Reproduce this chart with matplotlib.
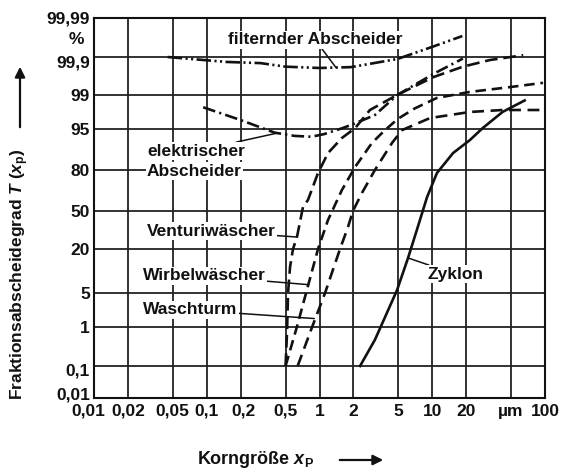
import numpy as np
import matplotlib
matplotlib.use("Agg")
import matplotlib.pyplot as plt
from matplotlib.transforms import ScaledTranslation

plt.rcParams['font.family'] = ['Liberation Sans', 'DejaVu Sans']
plt.rcParams['font.weight'] = 'bold'
plt.rcParams['mathtext.fontset'] = 'custom'
plt.rcParams['mathtext.rm'] = 'Liberation Sans:bold'
plt.rcParams['mathtext.it'] = 'Liberation Sans:italic:bold'

# ---------------- data ----------------
x_ticks = [0.01, 0.02, 0.05, 0.1, 0.2, 0.5, 1, 2, 5, 10, 20, 50, 100]
x_ticklabels = ['0,01', '0,02', '0,05', '0,1', '0,2', '0,5', '1', '2', '5',
                '10', '20', 'µm', '100']
y_ticks = [0.01, 0.1, 1, 5, 20, 50, 80, 95, 99, 99.9, 99.99]
y_ticklabels = ['0,01', '0,1', '1', '5', '20', '50', '80', '95', '99',
                '99,9', '99,99']
# relative grid positions of the (hand drawn) probability axis
y_tick_pos = [0, 32, 71, 105, 149, 187, 228, 269, 303, 341, 380]

filt_x = [0.045, 0.15, 0.3, 0.5, 1.0, 1.9, 4.9, 10, 18.5]
filt_y = [99.90, 99.865, 99.855, 99.82, 99.805, 99.815, 99.887, 99.945, 99.971]

elek_x = [0.093, 0.2, 0.4, 0.6, 0.85, 1.1, 1.6, 2.1, 3.1, 4.9, 7.3, 11, 18.7]
elek_y = [98.2, 96.7, 94.3, 93.6, 93.4, 94.0, 95.2, 96.2, 97.4, 99.0, 99.5,
          99.75, 99.89]

vent_x = [0.5, 0.515, 0.526, 0.548, 0.582, 0.631, 0.714, 0.79, 0.97, 1.19,
          1.58, 2.07, 2.8, 4.87, 10.2, 18.7, 32.5, 64]
vent_y = [0.1, 0.7, 5, 11.7, 20, 27.9, 53.4, 59.2, 78.3, 88.4, 93.1, 95.2,
          97.95, 99.0, 99.66, 99.82, 99.88, 99.91]

wirb_x = [0.5, 0.63, 0.76, 0.97, 1.19, 1.58, 2.07, 2.92, 3.81, 4.97, 7.0, 11,
          21.6, 49, 96]
wirb_y = [0.1, 1, 5, 20, 41.9, 67, 81.8, 91.8, 94.8, 96.9, 98.1, 98.85, 99.17,
          99.38, 99.52]

wasch_x = [0.64, 0.86, 1.12, 1.52, 1.79, 1.98, 2.38, 3.1, 4.4, 5.4, 9.55,
           21.6, 42, 96]
wasch_y = [0.1, 1, 5, 20, 35.8, 50, 64.8, 80, 91.8, 94.8, 97.0, 97.75, 97.95,
           97.95]

zyk_x = [2.29, 3.1, 3.81, 4.87, 6.1, 7.3, 9.0, 11, 15.3, 21.6, 28, 42, 66]
zyk_y = [0.1, 0.47, 1.6, 5.5, 15.4, 33.3, 61.6, 78.3, 88.4, 92.6, 95.2,
         97.75, 98.7]

# ---------------- probability-like y scale ----------------
TP = np.array(y_ticks, float)
POS = np.array(y_tick_pos, float) / y_tick_pos[-1]


def _logit(p):
    p = np.asarray(p, float)
    with np.errstate(all='ignore'):
        return np.log(p / (100.0 - p))


LT = _logit(TP)


def fwd(p):
    L = _logit(p)
    out = np.interp(L, LT, POS)
    s0 = (POS[1] - POS[0]) / (LT[1] - LT[0])
    s1 = (POS[-1] - POS[-2]) / (LT[-1] - LT[-2])
    out = np.where(L < LT[0], POS[0] + (L - LT[0]) * s0, out)
    out = np.where(L > LT[-1], POS[-1] + (L - LT[-1]) * s1, out)
    return out


def inv(y):
    y = np.asarray(y, float)
    L = np.interp(y, POS, LT)
    s0 = (LT[1] - LT[0]) / (POS[1] - POS[0])
    s1 = (LT[-1] - LT[-2]) / (POS[-1] - POS[-2])
    L = np.where(y < POS[0], LT[0] + (y - POS[0]) * s0, L)
    L = np.where(y > POS[-1], LT[-1] + (y - POS[-1]) * s1, L)
    return 100.0 / (1.0 + np.exp(-L))


# ---------------- figure ----------------
W, H = 562, 476
fig = plt.figure(figsize=(W / 100, H / 100), dpi=100)
L0, R0, T0, B0 = 94, 545, 18, 398
ax = fig.add_axes([L0 / W, (H - B0) / H, (R0 - L0) / W, (B0 - T0) / H])

ax.set_xscale('log')
ax.set_yscale('function', functions=(fwd, inv))
ax.set_xlim(0.01, 100)
ax.set_ylim(0.01, 99.99)

ax.set_xticks(x_ticks)
ax.set_xticklabels(x_ticklabels)
ax.xaxis.set_minor_locator(matplotlib.ticker.NullLocator())
ax.set_yticks(y_ticks)
ax.set_yticklabels(y_ticklabels)
ax.yaxis.set_minor_locator(matplotlib.ticker.NullLocator())
ax.tick_params(length=0, labelsize=12.5, colors='#111111')
ax.tick_params(axis='x', pad=4)
ax.tick_params(axis='y', pad=3)

# small hand-placed offsets of some tick labels (pixels)
x_shift = {0: -6, 4: 3}
for i, t in enumerate(ax.get_xticklabels()):
    if i in x_shift:
        t.set_transform(t.get_transform() +
                        ScaledTranslation(x_shift[i] / 100, 0, fig.dpi_scale_trans))
y_shift = {0: 5, 1: -3, 9: -4}
for i, t in enumerate(ax.get_yticklabels()):
    if i in y_shift:
        t.set_transform(t.get_transform() +
                        ScaledTranslation(0, y_shift[i] / 100, fig.dpi_scale_trans))

ax.grid(True, which='major', color='#222222', lw=1.3)
ax.set_axisbelow(True)
for sp in ax.spines.values():
    sp.set_linewidth(1.5)
    sp.set_color('#111111')

lc = '#111111'
lw = 1.9
ax.plot(filt_x, filt_y, color=lc, lw=lw, linestyle=(0, (5.5, 1.3, 0.8, 1.3, 0.8, 1.3)))
ax.plot(elek_x, elek_y, color=lc, lw=lw, linestyle=(0, (4.8, 1.6, 0.8, 1.6)))
ax.plot(vent_x, vent_y, color=lc, lw=lw, linestyle=(0, (4.8, 2.2)))
ax.plot(wirb_x, wirb_y, color=lc, lw=lw, linestyle=(0, (4.0, 2.2)))
ax.plot(wasch_x, wasch_y, color=lc, lw=lw, linestyle=(0, (4.5, 2.5)))
ax.plot(zyk_x, zyk_y, color=lc, lw=lw, linestyle='-')


def fx(px):
    return (px - L0) / (R0 - L0)


def fy(py):
    return (B0 - py) / (B0 - T0)


box = dict(facecolor='white', edgecolor='none', pad=1.0)
aprops = dict(arrowstyle='-', lw=1.1, color=lc, shrinkA=0, shrinkB=0)
fs = 12.5


def label(text, px, py, xy=None):
    if xy is None:
        ax.text(fx(px), fy(py), text, transform=ax.transAxes, ha='left',
                va='center', fontsize=fs, bbox=box, zorder=4, color=lc)
    else:
        ax.annotate(text, xy=xy, xycoords='data', xytext=(fx(px), fy(py)),
                    textcoords='axes fraction', ha='left', va='center',
                    fontsize=fs, bbox=box, arrowprops=aprops, zorder=4,
                    color=lc)


label('filternder Abscheider', 228, 40, (1.4, 99.81))
label('elektrischer', 147, 151, (0.42, 94.2))
label('Abscheider', 147, 171)
label('Venturiwäscher', 147, 231, (0.631, 27.9))
label('Wirbelwäscher', 143, 276, (0.80, 6.6))
label('Waschturm', 143, 310, (0.9, 1.5))
label('Zyklon', 427, 274, (6.1, 15.4))

# percent sign under the top label
fig.text(76 / W, (H - 39) / H, '%', ha='center', va='center', fontsize=12.5,
         color=lc)

# axis titles with arrows
fig.text(20 / W, (H - 400) / H, 'Fraktionsabscheidegrad $T$ ($x_\\mathrm{p}$)',
         rotation=90, ha='center', va='bottom', fontsize=12.5, color=lc)
fig.add_artist(matplotlib.patches.FancyArrowPatch(
    (20 / W, (H - 130) / H), (20 / W, (H - 64) / H),
    transform=fig.transFigure, arrowstyle='-|>', mutation_scale=15,
    lw=1.6, color=lc))

fig.text(197 / W, (H - 460) / H, 'Korngröße $x_\\mathrm{P}$', ha='left',
         va='center', fontsize=13, color=lc)
fig.add_artist(matplotlib.patches.FancyArrowPatch(
    (337 / W, (H - 460) / H), (386 / W, (H - 460) / H),
    transform=fig.transFigure, arrowstyle='-|>', mutation_scale=15,
    lw=1.6, color=lc))

fig.savefig('out.png', dpi=100, facecolor='white')
